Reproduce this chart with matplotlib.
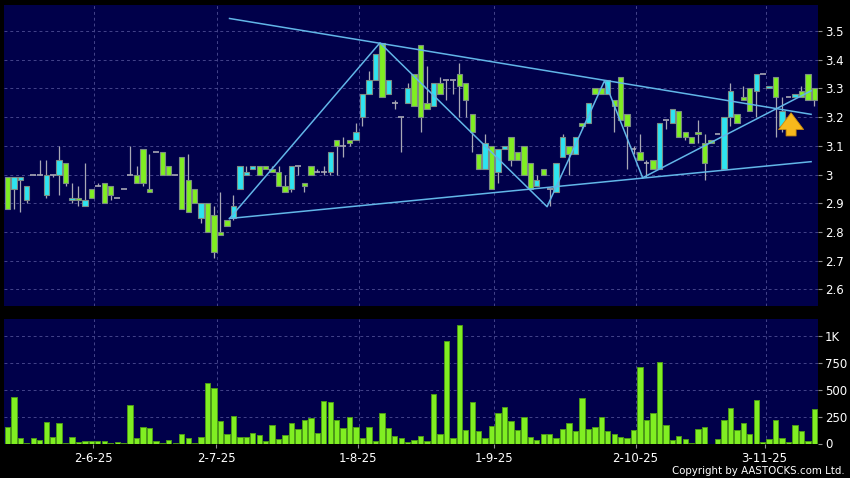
import numpy as np
import matplotlib.pyplot as plt

# daily bars, price in HKD, volume in thousand shares
opens = [2.99, 2.95, 2.98, 2.91, 3.00, 3.00, 2.93, 3.00, 3.00, 3.04,
         2.91, 2.92, 2.89, 2.95, 2.96, 2.97, 2.96, 2.92, 2.95, 3.00,
         3.00, 3.09, 2.95, 3.08, 3.08, 3.03, 3.00, 3.06, 2.98, 2.95,
         2.85, 2.90, 2.86, 2.80, 2.84, 2.85, 2.95, 3.00, 3.02, 3.03,
         3.03, 3.02, 3.01, 2.96, 2.95, 3.03, 2.97, 3.03, 3.01, 3.01,
         3.01, 3.12, 3.10, 3.12, 3.12, 3.20, 3.28, 3.33, 3.46, 3.28,
         3.25, 3.20, 3.25, 3.35, 3.45, 3.25, 3.24, 3.32, 3.33, 3.33,
         3.35, 3.32, 3.21, 3.07, 3.02, 3.10, 3.01, 3.09, 3.13, 3.08,
         3.10, 3.04, 2.96, 3.02, 2.95, 2.94, 3.06, 3.10, 3.07, 3.18,
         3.18, 3.30, 3.30, 3.28, 3.26, 3.34, 3.21, 3.09, 3.08, 3.04,
         3.05, 3.02, 3.19, 3.18, 3.22, 3.15, 3.13, 3.15, 3.11, 3.12,
         3.14, 3.02, 3.20, 3.21, 3.27, 3.30, 3.29, 3.35, 3.30, 3.34,
         3.17, 3.27, 3.27, 3.29, 3.35, 3.30]
highs = [2.99, 2.99, 2.99, 2.96, 3.00, 3.05, 3.05, 3.00, 3.10, 3.04,
         2.97, 2.96, 3.04, 2.95, 2.97, 2.97, 2.96, 2.92, 2.95, 3.10,
         3.03, 3.09, 3.07, 3.08, 3.08, 3.03, 3.00, 3.06, 3.07, 2.95,
         2.90, 2.90, 2.89, 2.94, 2.84, 2.93, 3.03, 3.03, 3.03, 3.03,
         3.03, 3.03, 3.03, 3.00, 3.03, 3.03, 2.97, 3.03, 3.02, 3.03,
         3.08, 3.12, 3.13, 3.12, 3.18, 3.28, 3.36, 3.42, 3.46, 3.33,
         3.26, 3.20, 3.32, 3.35, 3.45, 3.38, 3.32, 3.34, 3.33, 3.33,
         3.39, 3.32, 3.21, 3.07, 3.14, 3.10, 3.09, 3.10, 3.13, 3.08,
         3.10, 3.04, 3.00, 3.02, 2.95, 3.04, 3.14, 3.10, 3.13, 3.18,
         3.25, 3.30, 3.30, 3.33, 3.26, 3.34, 3.21, 3.10, 3.14, 3.05,
         3.05, 3.18, 3.19, 3.23, 3.22, 3.15, 3.13, 3.19, 3.14, 3.12,
         3.14, 3.20, 3.32, 3.21, 3.31, 3.30, 3.35, 3.35, 3.31, 3.34,
         3.27, 3.27, 3.28, 3.31, 3.35, 3.30]
lows = [2.88, 2.88, 2.87, 2.90, 3.00, 3.00, 2.92, 2.99, 2.93, 2.96,
        2.90, 2.89, 2.89, 2.92, 2.96, 2.90, 2.91, 2.92, 2.95, 3.00,
        2.97, 2.96, 2.94, 3.08, 3.00, 3.00, 3.00, 2.88, 2.87, 2.90,
        2.83, 2.80, 2.71, 2.79, 2.82, 2.84, 2.95, 3.00, 3.02, 3.00,
        3.02, 3.01, 2.96, 2.94, 2.94, 3.00, 2.94, 3.00, 3.01, 3.00,
        3.00, 3.00, 3.06, 3.10, 3.12, 3.17, 3.28, 3.33, 3.27, 3.28,
        3.23, 3.08, 3.25, 3.24, 3.15, 3.23, 3.24, 3.28, 3.26, 3.28,
        3.20, 3.20, 3.08, 3.02, 3.02, 2.95, 2.97, 3.09, 3.03, 3.05,
        3.00, 2.95, 2.96, 3.00, 2.89, 2.94, 3.06, 3.00, 3.07, 3.16,
        3.18, 3.28, 3.28, 3.28, 3.15, 3.19, 3.02, 3.07, 3.05, 2.99,
        3.02, 3.02, 3.16, 3.18, 3.13, 3.12, 3.11, 3.11, 2.98, 3.11,
        3.14, 3.02, 3.17, 3.18, 3.26, 3.22, 3.20, 3.35, 3.30, 3.13,
        3.15, 3.27, 3.27, 3.27, 3.26, 3.24]
closes = [2.88, 2.99, 2.99, 2.96, 3.00, 3.00, 3.00, 3.00, 3.05, 2.97,
          2.92, 2.91, 2.91, 2.92, 2.96, 2.90, 2.93, 2.92, 2.95, 3.00,
          2.97, 2.97, 2.94, 3.08, 3.00, 3.00, 3.00, 2.88, 2.87, 2.90,
          2.90, 2.80, 2.73, 2.79, 2.82, 2.89, 3.03, 3.01, 3.03, 3.00,
          3.02, 3.01, 2.96, 2.94, 3.03, 3.03, 2.96, 3.00, 3.01, 3.01,
          3.08, 3.10, 3.10, 3.11, 3.15, 3.28, 3.33, 3.42, 3.27, 3.33,
          3.25, 3.20, 3.30, 3.24, 3.20, 3.23, 3.32, 3.28, 3.33, 3.33,
          3.31, 3.26, 3.15, 3.02, 3.11, 2.95, 3.09, 3.10, 3.05, 3.05,
          3.00, 2.95, 2.98, 3.00, 2.95, 3.04, 3.13, 3.07, 3.13, 3.17,
          3.25, 3.28, 3.28, 3.33, 3.24, 3.19, 3.17, 3.09, 3.05, 3.04,
          3.02, 3.18, 3.19, 3.23, 3.13, 3.13, 3.11, 3.14, 3.04, 3.11,
          3.14, 3.20, 3.29, 3.18, 3.26, 3.22, 3.35, 3.35, 3.31, 3.27,
          3.22, 3.27, 3.28, 3.27, 3.26, 3.26]
volume = [149, 434, 52, 5, 52, 35, 201, 62, 186, 3,
          56, 16, 25, 22, 25, 25, 6, 12, 6, 357,
          47, 149, 140, 25, 6, 31, 5, 87, 47, 5,
          56, 565, 515, 208, 85, 254, 56, 56, 93, 77,
          21, 171, 40, 77, 186, 133, 217, 233, 102, 394,
          382, 217, 140, 242, 155, 47, 149, 22, 280, 145,
          65, 47, 12, 34, 65, 22, 460, 87, 956, 47,
          1102, 124, 385, 112, 53, 161, 280, 341, 208, 124,
          248, 59, 31, 87, 87, 53, 133, 186, 118, 419,
          130, 149, 242, 118, 87, 56, 53, 124, 714, 217,
          280, 755, 171, 31, 68, 40, 9, 130, 155, 0,
          40, 217, 326, 124, 192, 84, 406, 16, 40, 217,
          50, 16, 171, 115, 22, 317]

date_idx = [13, 32, 54, 75, 97, 117]
date_labels = ['2-6-25', '2-7-25', '1-8-25', '1-9-25', '2-10-25', '3-11-25']
price_ticks = [2.6, 2.7, 2.8, 2.9, 3.0, 3.1, 3.2, 3.3, 3.4, 3.5]
vol_ticks = [0, 250, 500, 750, 1000]
vol_labels = ['0', '250', '500', '750', '1K']

# drawn trend lines (bar index, price)
upper_x, upper_y = [34.4, 124.5], [3.544, 3.210]
lower_x, lower_y = [34.4, 124.5], [2.847, 3.045]
zig_x = [34.4, 57.7, 83.6, 92.5, 98.4]
zig_y = [2.847, 3.459, 2.888, 3.327, 2.989]
rise_x, rise_y = [98.4, 124.5], [2.989, 3.292]

bg = '#00004A'
grid_c = '#44448a'
up_c = '#2EE4F0'
dn_c = '#80EE22'
wick_c = '#a8a8b4'
line_c = '#62B6E8'

o = np.array(opens)
h = np.array(highs)
l = np.array(lows)
c = np.array(closes)
x = np.arange(len(o))

fig = plt.figure(figsize=(8.5, 4.78), dpi=100, facecolor='black')
ax = fig.add_axes([4 / 850, 1 - 306 / 478, 814 / 850, 301 / 478])
axv = fig.add_axes([4 / 850, 1 - 443.5 / 478, 814 / 850, 124.5 / 478], sharex=ax)

for a in (ax, axv):
    a.set_facecolor(bg)
    for s in a.spines.values():
        s.set_visible(False)
    a.yaxis.tick_right()
    a.tick_params(axis='y', colors='#909090', labelcolor='white', labelsize=8.5,
                  length=3, width=0.8, pad=2)
    for xi in date_idx:
        a.axvline(xi + 0.45, color=grid_c, lw=0.7, ls=(0, (3, 3)), zorder=0)

# candles
ax.vlines(x, l, h, color=wick_c, lw=0.9, zorder=2)
body = c != o
colors = np.where(c > o, up_c, dn_c)
ax.bar(x[body], np.abs(c - o)[body], bottom=np.minimum(o, c)[body], width=0.82,
       color=colors[body], edgecolor='#7c8c84', linewidth=0.8, zorder=3)
ax.hlines(c[~body], x[~body] - 0.45, x[~body] + 0.45, color=wick_c, lw=1.2, zorder=3)

# trend lines
for lx, ly in [(upper_x, upper_y), (lower_x, lower_y), (zig_x, zig_y), (rise_x, rise_y)]:
    ax.plot(lx, ly, color=line_c, lw=1.1, zorder=4)

# buy signal arrow
ax.annotate('', xy=(121.4, 3.225), xytext=(121.4, 3.125),
            arrowprops=dict(arrowstyle='simple,head_width=1.5,head_length=1.0,tail_width=0.6',
                            fc='#F7B81C', ec='#C98A10', lw=0.6, mutation_scale=12),
            zorder=5)

for yt in price_ticks:
    ax.axhline(yt, color=grid_c, lw=0.7, ls=(0, (3, 3)), zorder=0)
ax.set_yticks(price_ticks)
ax.set_yticklabels(['%g' % t for t in price_ticks])
ax.set_ylim(2.542, 3.591)
ax.set_xlim(-0.54, 125.57)
ax.tick_params(axis='x', bottom=False, labelbottom=False)

# volume
axv.bar(x, volume, width=0.82, color='#80EE22', edgecolor='#4C9A18', linewidth=0.7, zorder=3)
for yt in vol_ticks[1:]:
    axv.axhline(yt, color=grid_c, lw=0.7, ls=(0, (3, 3)), zorder=0)
axv.set_yticks(vol_ticks)
axv.set_yticklabels(vol_labels)
axv.set_ylim(0, 1156)
axv.set_xticks([d + 0.3 for d in date_idx])
axv.set_xticklabels(date_labels)
axv.tick_params(axis='x', colors='#909090', labelcolor='white', labelsize=8.5,
                length=3, width=0.8, pad=3)

fig.text(845 / 850, 1 - 471 / 478, 'Copyright by AASTOCKS.com Ltd.', color='white',
         fontsize=7.4, ha='right', va='center')

fig.savefig('out.png', dpi=100, facecolor='black')
